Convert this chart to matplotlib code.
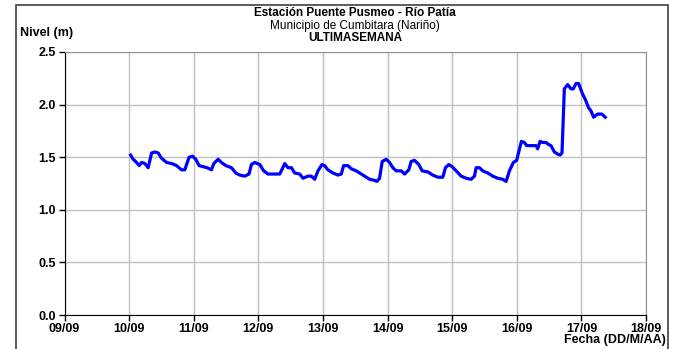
import numpy as np
import matplotlib
matplotlib.use("Agg")
import matplotlib.pyplot as plt
from matplotlib.patches import Rectangle

plt.rcParams['font.family'] = ['Liberation Sans', 'DejaVu Sans']

# days since 09/09 and river level (m)
dias = [1.023, 1.063, 1.116, 1.156, 1.193, 1.244, 1.295, 1.348, 1.399, 1.450,
        1.502, 1.580, 1.657, 1.734, 1.811, 1.862, 1.889, 1.929, 1.981, 2.032,
        2.083, 2.145, 2.207, 2.275, 2.311, 2.377, 2.430, 2.496, 2.584, 2.651,
        2.713, 2.790, 2.856, 2.893, 2.944, 3.022, 3.083, 3.150, 3.253, 3.331,
        3.372, 3.408, 3.459, 3.512, 3.563, 3.640, 3.691, 3.768, 3.821, 3.872,
        3.923, 3.985, 4.026, 4.077, 4.155, 4.232, 4.284, 4.320, 4.386, 4.439,
        4.516, 4.567, 4.645, 4.722, 4.799, 4.835, 4.876, 4.918, 4.980, 5.031,
        5.082, 5.134, 5.212, 5.263, 5.329, 5.366, 5.417, 5.484, 5.536, 5.623,
        5.700, 5.777, 5.855, 5.896, 5.947, 6.000, 6.062, 6.139, 6.216, 6.294,
        6.345, 6.371, 6.422, 6.473, 6.550, 6.628, 6.705, 6.782, 6.835, 6.886,
        6.947, 6.998, 7.071, 7.117, 7.153, 7.246, 7.298, 7.323, 7.360, 7.400,
        7.453, 7.493, 7.530, 7.581, 7.632, 7.669, 7.700, 7.736, 7.787, 7.839,
        7.875, 7.917, 7.957, 8.019, 8.060, 8.111, 8.148, 8.189, 8.250, 8.318,
        8.369]
nivel = [1.52, 1.48, 1.45, 1.42, 1.45, 1.44, 1.40, 1.54, 1.55, 1.54,
         1.49, 1.45, 1.44, 1.42, 1.38, 1.38, 1.43, 1.50, 1.51, 1.48,
         1.42, 1.41, 1.40, 1.38, 1.44, 1.48, 1.45, 1.42, 1.40, 1.35,
         1.33, 1.32, 1.34, 1.43, 1.45, 1.43, 1.37, 1.34, 1.34, 1.34,
         1.39, 1.44, 1.40, 1.40, 1.35, 1.34, 1.30, 1.32, 1.32, 1.29,
         1.37, 1.43, 1.42, 1.38, 1.35, 1.33, 1.34, 1.42, 1.42, 1.39,
         1.37, 1.35, 1.32, 1.29, 1.28, 1.27, 1.30, 1.46, 1.48, 1.45,
         1.40, 1.37, 1.37, 1.34, 1.38, 1.46, 1.47, 1.43, 1.37, 1.36,
         1.33, 1.31, 1.31, 1.40, 1.43, 1.41, 1.37, 1.32, 1.30, 1.29,
         1.32, 1.40, 1.40, 1.37, 1.35, 1.32, 1.30, 1.29, 1.27, 1.37,
         1.45, 1.47, 1.65, 1.64, 1.61, 1.61, 1.61, 1.58, 1.65, 1.64,
         1.64, 1.62, 1.61, 1.55, 1.53, 1.52, 1.54, 2.15, 2.19, 2.15,
         2.15, 2.20, 2.20, 2.10, 2.05, 1.97, 1.94, 1.88, 1.91, 1.91,
         1.88]

etiquetas_x = ["09/09", "10/09", "11/09", "12/09", "13/09",
               "14/09", "15/09", "16/09", "17/09", "18/09"]
ticks_y = [0.0, 0.5, 1.0, 1.5, 2.0, 2.5]

fs = 9
fs_tit = 8.5

fig = plt.figure(figsize=(6.74, 3.49), dpi=100)
ax = fig.add_axes([64.5 / 674, 1 - 315 / 349, (646 - 64.5) / 674, (315 - 52) / 349])

ax.plot(dias, nivel, color="#0000ff", lw=2.3, solid_joinstyle="round", zorder=3)

ax.set_xlim(0, 9)
ax.set_ylim(0, 2.5)
ax.set_xticks(range(len(etiquetas_x)))
ax.set_xticklabels(etiquetas_x)
ax.set_yticks(ticks_y)
ax.set_yticklabels(["%.1f" % v for v in ticks_y])
ax.grid(True, color="#c0c0c0", lw=1)
ax.set_axisbelow(True)

for s in ["top", "right"]:
    ax.spines[s].set_color("#909090")
for s in ["left", "bottom"]:
    ax.spines[s].set_color("black")
ax.tick_params(axis="both", length=4, width=1, labelsize=fs, pad=2)
for lab in ax.get_xticklabels() + ax.get_yticklabels():
    lab.set_fontweight("bold")

# titles
fig.text(0.527, 1 - 12.5 / 349, "Estación Puente Pusmeo - Río Patía",
         ha="center", va="center", fontsize=fs_tit, fontweight="bold")
fig.text(0.527, 1 - 25.5 / 349, "Municipio de Cumbitara (Nariño)",
         ha="center", va="center", fontsize=fs_tit)
fig.text(0.527, 1 - 38 / 349, "ULTIMASEMANA",
         ha="center", va="center", fontsize=fs_tit, fontweight="bold")
fig.text(20 / 674, 1 - 33 / 349, "Nivel (m)", ha="left", va="center",
         fontsize=fs, fontweight="bold")
fig.text(666 / 674, 1 - 340 / 349, "Fecha (DD/M/AA)", ha="right", va="center",
         fontsize=fs, fontweight="bold")

# outer frame
fig.patches.append(Rectangle((16 / 674, -0.05), (668 - 16) / 674, 1.05 - 5 / 349,
                             transform=fig.transFigure, fill=False,
                             edgecolor="#404040", lw=1.2))

fig.savefig("out.png", dpi=100)
